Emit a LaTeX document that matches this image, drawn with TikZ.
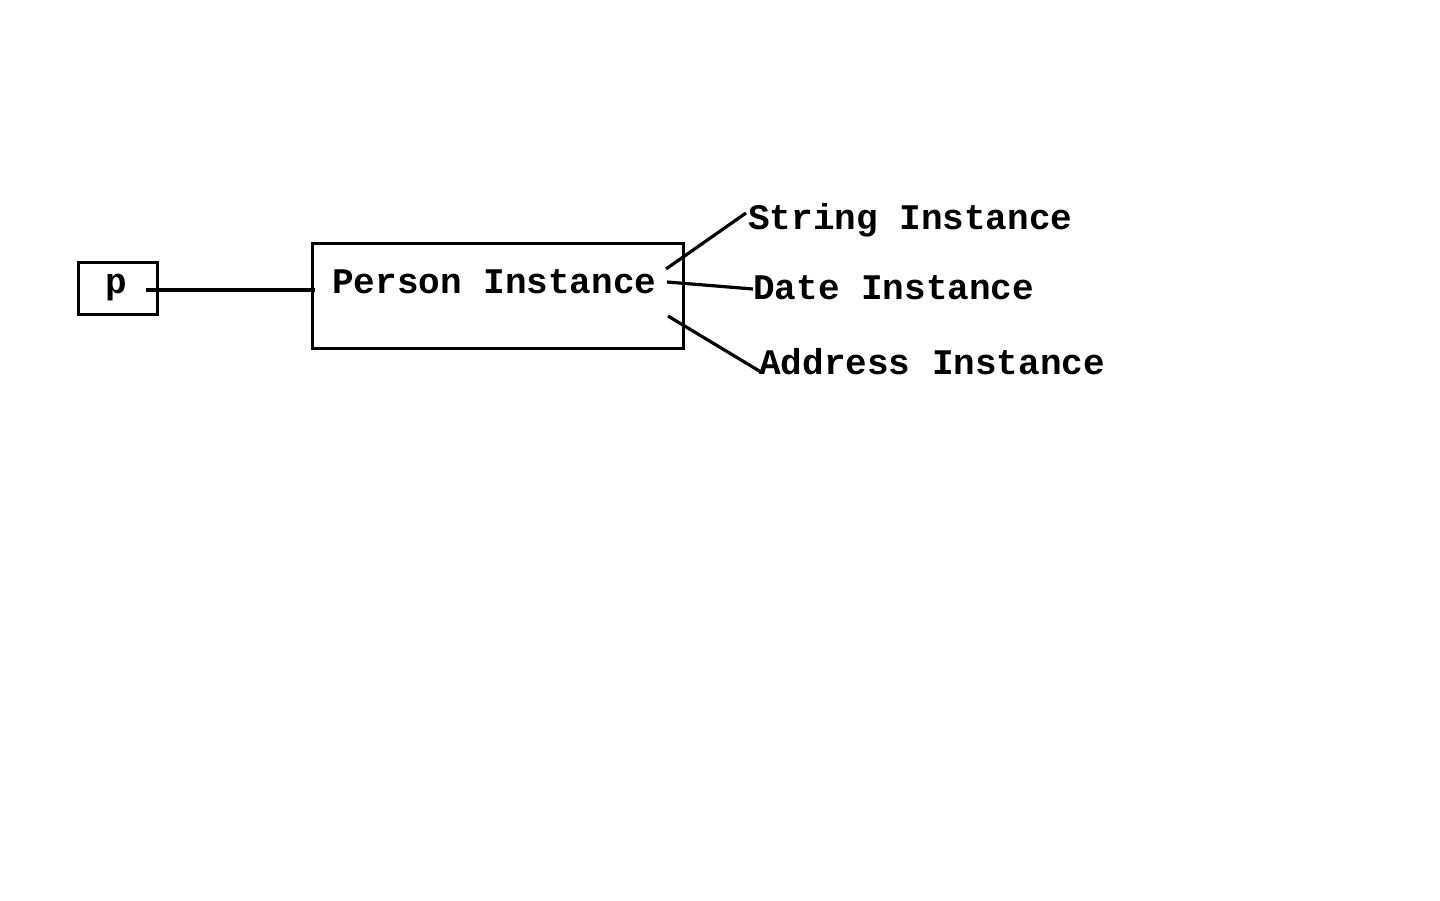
\documentclass[tikz,border=0pt]{standalone}
\usepackage{fontspec}
\setmonofont{Liberation Mono}
\begin{document}
\begin{tikzpicture}[x=1pt,y=-1pt,
  lbl/.style={font=\ttfamily\bfseries\fontsize{36}{40}\selectfont, inner sep=0pt, anchor=base west},
  box/.style={draw, line width=3pt, inner sep=0pt},
  conn/.style={line width=3.2pt}]
\useasboundingbox (0,0) rectangle (1440,900);
\node[box, minimum width=79pt, minimum height=52pt] (pbox) at (117.5,288) {};
\node[box, minimum width=371pt, minimum height=105pt] (person) at (497.5,295.5) {};
\node[lbl] (ptext) at (105,293) {p};
\node[lbl] (persontext) at (332,293) {Person Instance};
\node[lbl] (str) at (748,229) {String Instance};
\node[lbl] (date) at (753,299) {Date Instance};
\node[lbl] (addr) at (759,374) {Address Instance};
\coordinate (pin) at (146,290);
\coordinate (pout) at (315,290);
\coordinate (s0) at (666,269);
\coordinate (s1) at (746,213);
\coordinate (d0) at (667,282);
\coordinate (d1) at (753,289);
\coordinate (a0) at (668,316);
\coordinate (a1) at (761,372);
\draw[conn] (pin) -- (pout);
\draw[conn] (s0) -- (s1);
\draw[conn] (d0) -- (d1);
\draw[conn] (a0) -- (a1);
\end{tikzpicture}
\end{document}
